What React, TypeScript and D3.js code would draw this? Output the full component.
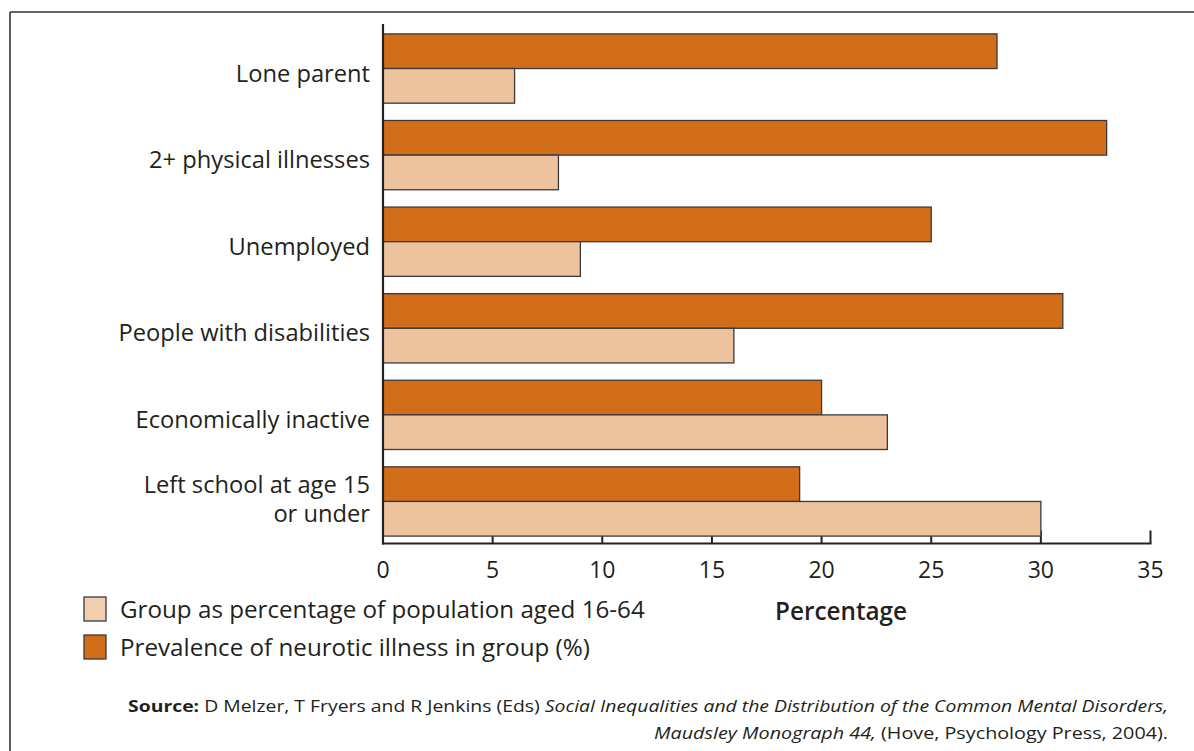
import React from "react";
import * as d3 from "d3";

const categories = [
  "Lone parent",
  "2+ physical illnesses",
  "Unemployed",
  "People with disabilities",
  "Economically inactive",
  "Left school at age 15|or under",
];
const prevalence = [28, 33, 25, 31, 20, 19];
const groupShare = [6, 8, 9, 16, 23, 30];
const xTicks = [0, 5, 10, 15, 20, 25, 30, 35];
const legendLabels = [
  "Group as percentage of population aged 16-64",
  "Prevalence of neurotic illness in group (%)",
];

const W = 1194;
const H = 751;
const DARK = "#D26E19";
const LIGHT = "#EDC39E";
const STROKE = "#3a3a3a";
const TEXT = "#231f20";
const FONT = "'Open Sans', 'Noto Sans', sans-serif";

export default function App() {
  const x = d3.scaleLinear().domain([0, 35]).range([383, 1150.5]);
  const y = d3
    .scaleBand<string>()
    .domain(categories)
    .range([25.25, 544.75])
    .paddingInner(0.2)
    .paddingOuter(0.1);
  const bw = y.bandwidth();
  const half = bw / 2;
  const axisY = 543.5;

  return (
    <svg
      width={W}
      height={H}
      style={{ position: "absolute", left: 0, top: 0, background: "#fff" }}
      fontFamily={FONT}
    >
      {/* frame */}
      <line x1={10} y1={12} x2={W} y2={12} stroke="#333" strokeWidth={1.6} />
      <line x1={10} y1={12} x2={10} y2={H} stroke="#333" strokeWidth={1.6} />

      {/* ticks (behind bars) */}
      {xTicks.map((t) => (
        <line
          key={"t" + t}
          x1={x(t)}
          x2={x(t)}
          y1={axisY}
          y2={axisY - 13}
          stroke="#222"
          strokeWidth={2}
        />
      ))}

      {/* bars */}
      {categories.map((c, i) => {
        const y0 = y(c)!;
        return (
          <g key={c}>
            <rect
              x={x(0)}
              y={y0}
              width={x(prevalence[i]) - x(0)}
              height={half}
              fill={DARK}
              stroke={STROKE}
              strokeWidth={1.3}
            />
            <rect
              x={x(0)}
              y={y0 + half}
              width={x(groupShare[i]) - x(0)}
              height={half}
              fill={LIGHT}
              stroke={STROKE}
              strokeWidth={1.3}
            />
          </g>
        );
      })}

      {/* axes */}
      <line x1={x(0)} x2={x(0)} y1={24} y2={axisY + 1} stroke="#222" strokeWidth={2.2} />
      <line x1={x(0) - 1} x2={x(35) + 1} y1={axisY} y2={axisY} stroke="#222" strokeWidth={2.2} />

      {/* tick labels */}
      {xTicks.map((t) => (
        <text
          key={"l" + t}
          x={x(t)}
          y={578}
          textAnchor="middle"
          fontSize={23}
          fill={TEXT}
        >
          {t}
        </text>
      ))}

      {/* category labels */}
      {categories.map((c) => {
        const lines = c.split("|");
        const cy = y(c)! + half;
        return (
          <text key={"c" + c} textAnchor="end" fontSize={23.7} fill={TEXT}>
            {lines.map((ln, j) => (
              <tspan
                key={j}
                x={370}
                y={lines.length === 1 ? cy + 13 : cy - 8 + j * 29}
              >
                {ln}
              </tspan>
            ))}
          </text>
        );
      })}

      {/* x axis title */}
      <text x={841} y={620} textAnchor="middle" fontSize={24.3} fontWeight={600} fill={TEXT}>
        Percentage
      </text>

      {/* legend */}
      {legendLabels.map((l, i) => (
        <g key={"lg" + i}>
          <rect
            x={84}
            y={597 + i * 38}
            width={22}
            height={24}
            fill={i === 0 ? "#F1CFB0" : DARK}
            stroke={STROKE}
            strokeWidth={1.3}
          />
          <text x={120} y={618 + i * 38} fontSize={24.2} fill={TEXT}>
            {l}
          </text>
        </g>
      ))}

      {/* source */}
      <text
        x={1168}
        y={712}
        textAnchor="end"
        fontSize={16.5}
        fill={TEXT}
        textLength={1040}
        lengthAdjust="spacingAndGlyphs"
      >
        <tspan fontWeight={700}>Source:</tspan>
        <tspan> D Melzer, T Fryers and R Jenkins (Eds) </tspan>
        <tspan fontStyle="italic">
          Social Inequalities and the Distribution of the Common Mental Disorders,
        </tspan>
      </text>
      <text
        x={1168}
        y={739}
        textAnchor="end"
        fontSize={16.5}
        fill={TEXT}
        textLength={514}
        lengthAdjust="spacingAndGlyphs"
      >
        <tspan fontStyle="italic">Maudsley Monograph 44,</tspan>
        <tspan> (Hove, Psychology Press, 2004).</tspan>
      </text>
    </svg>
  );
}
